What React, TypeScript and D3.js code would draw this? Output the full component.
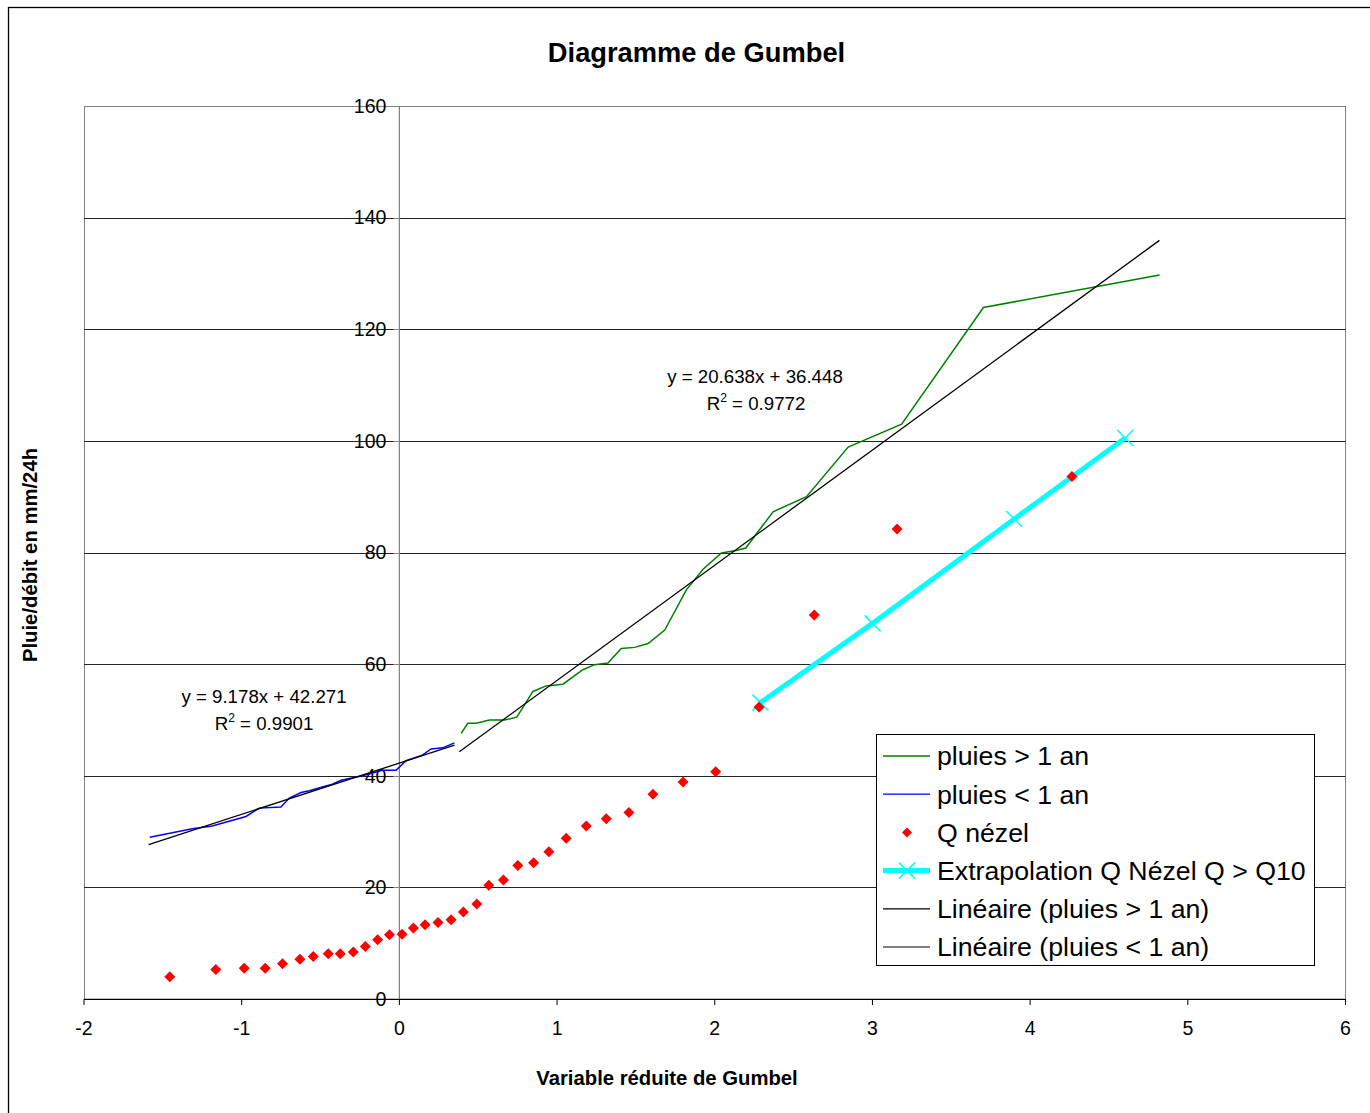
import React from "react";
import * as d3 from "d3";

const bluePluiesX = [-1.583, -1.314, -1.187, -0.973, -0.889, -0.751, -0.698, -0.624, -0.571, -0.489, -0.425, -0.37, -0.234, -0.107, -0.021, 0.042, 0.146, 0.201, 0.274, 0.349];
const bluePluiesY = [29.0, 30.5, 31.0, 32.7, 34.2, 34.4, 36.0, 37.0, 37.3, 38.0, 38.5, 39.2, 40.0, 41.0, 41.0, 42.7, 43.7, 44.8, 45.0, 45.9];

const greenPluiesX = [0.392, 0.434, 0.487, 0.571, 0.667, 0.745, 0.847, 0.931, 1.037, 1.164, 1.238, 1.323, 1.407, 1.492, 1.577, 1.683, 1.82, 1.926, 2.042, 2.127, 2.197, 2.37, 2.582, 2.846, 3.185, 3.704, 4.821];
const greenPluiesY = [47.6, 49.4, 49.4, 50.0, 50.0, 50.5, 55.1, 56.1, 56.4, 59.0, 59.9, 60.2, 62.8, 63.0, 63.7, 66.1, 73.3, 77.0, 79.9, 80.3, 80.8, 87.3, 90.0, 98.9, 103.0, 123.9, 129.7];

const qNezelX = [-1.456, -1.164, -0.984, -0.851, -0.741, -0.631, -0.546, -0.451, -0.375, -0.292, -0.216, -0.138, -0.063, 0.017, 0.089, 0.163, 0.245, 0.328, 0.406, 0.491, 0.567, 0.66, 0.751, 0.851, 0.948, 1.058, 1.185, 1.312, 1.456, 1.608, 1.799, 2.006, 2.281, 2.631, 3.156, 4.265];
const qNezelY = [4.0, 5.3, 5.5, 5.5, 6.3, 7.1, 7.6, 8.1, 8.1, 8.4, 9.4, 10.6, 11.5, 11.6, 12.7, 13.3, 13.7, 14.2, 15.6, 17.0, 20.4, 21.3, 23.9, 24.4, 26.4, 28.8, 31.0, 32.3, 33.4, 36.7, 38.9, 40.7, 52.3, 68.8, 84.2, 93.6];

const extrapX = [2.29, 3.001, 3.899, 4.603];
const extrapY = [53.1, 67.3, 86.0, 100.5];

// trend lines: [slope, intercept, xStart, xEnd]
const trendSup = [20.638, 36.448, 0.38, 4.82];
const trendInf = [9.178, 42.271, -1.59, 0.35];

const xTicks = [-2, -1, 0, 1, 2, 3, 4, 5, 6];
const yTicks = [0, 20, 40, 60, 80, 100, 120, 140, 160];

const legendLabels = [
  "pluies > 1 an",
  "pluies < 1 an",
  "Q nézel",
  "Extrapolation Q Nézel Q > Q10",
  "Linéaire (pluies > 1 an)",
  "Linéaire (pluies < 1 an)",
];

const FONT = "'Liberation Sans', Arial, sans-serif";

export default function App() {
  const x = d3.scaleLinear().domain([-2, 6]).range([84, 1345.5]);
  const y = d3.scaleLinear().domain([0, 160]).range([999, 106]);
  const line = d3
    .line<[number, number]>()
    .x((d) => x(d[0]))
    .y((d) => y(d[1]));

  const zip = (a: number[], b: number[]) => a.map((v, i) => [v, b[i]] as [number, number]);
  const trendPts = (t: number[]) => [
    [t[2], t[0] * t[2] + t[1]],
    [t[3], t[0] * t[3] + t[1]],
  ] as [number, number][];

  const diamond = (cx: number, cy: number, r: number) =>
    `M${cx},${cy - r}L${cx + r},${cy}L${cx},${cy + r}L${cx - r},${cy}Z`;
  const cross = (cx: number, cy: number, r: number) =>
    `M${cx - r},${cy - r}L${cx + r},${cy + r}M${cx - r},${cy + r}L${cx + r},${cy - r}`;

  const legX = 876;
  const legY = 734;
  const rowH = 38.2;

  return (
    <svg
      width={1370}
      height={1113}
      style={{ position: "absolute", left: 0, top: 0, background: "#fff" }}
      fontFamily={FONT}
    >
      <rect x={0} y={0} width={1370} height={1113} fill="#fff" />
      <rect x={8.5} y={7.5} width={1400} height={1200} fill="none" stroke="#000" strokeWidth={1.3} />
      <text x={696.5} y={62} textAnchor="middle" fontSize={27.3} fontWeight="bold">
        Diagramme de Gumbel
      </text>

      {/* plot area border */}
      <rect x={84.5} y={106.5} width={1261} height={892.5} fill="none" stroke="#808080" strokeWidth={1} />

      {/* gridlines */}
      {yTicks.filter((t) => t > 0 && t < 160).map((t) => (
        <line key={t} x1={84} x2={1345.5} y1={Math.round(y(t)) + 0.5} y2={Math.round(y(t)) + 0.5} stroke="#222" strokeWidth={1} />
      ))}

      {/* y axis at x=0 */}
      <line x1={x(0)} x2={x(0)} y1={106} y2={999} stroke="#808080" strokeWidth={1.2} />
      {yTicks.map((t) => (
        <g key={t}>
          <line x1={x(0) - 6} x2={x(0)} y1={Math.round(y(t)) + 0.5} y2={Math.round(y(t)) + 0.5} stroke="#808080" />
          <text x={x(0) - 13} y={y(t)} dy="0.35em" textAnchor="end" fontSize={19.5}>
            {t}
          </text>
        </g>
      ))}

      {/* x axis */}
      <line x1={84} x2={1345.5} y1={999.5} y2={999.5} stroke="#000" strokeWidth={1} />
      {xTicks.map((t) => (
        <g key={t}>
          <line x1={x(t)} x2={x(t)} y1={999} y2={1005} stroke="#000" />
          <text x={x(t)} y={1035} textAnchor="middle" fontSize={19.5}>
            {t}
          </text>
        </g>
      ))}

      {/* axis titles */}
      <text x={667} y={1085} textAnchor="middle" fontSize={20.3} fontWeight="bold">
        Variable réduite de Gumbel
      </text>
      <text
        transform={`translate(37,555) rotate(-90)`}
        textAnchor="middle"
        fontSize={20.3}
        fontWeight="bold"
      >
        Pluie/débit en  mm/24h
      </text>

      {/* series */}
      <path d={line(zip(greenPluiesX, greenPluiesY)) || ""} fill="none" stroke="#008000" strokeWidth={1.5} />
      <path d={line(zip(bluePluiesX, bluePluiesY)) || ""} fill="none" stroke="#0000FF" strokeWidth={1.5} />
      <path d={line(zip(extrapX, extrapY)) || ""} fill="none" stroke="#00FFFF" strokeWidth={5} />
      {extrapX.map((v, i) => (
        <path key={i} d={cross(x(v), y(extrapY[i]), 8)} fill="none" stroke="#00FFFF" strokeWidth={1.5} />
      ))}
      {qNezelX.map((v, i) => (
        <path key={i} d={diamond(x(v), y(qNezelY[i]), 5.5)} fill="#FF0000" />
      ))}
      <path d={line(trendPts(trendSup)) || ""} fill="none" stroke="#000" strokeWidth={1.3} />
      <path d={line(trendPts(trendInf)) || ""} fill="none" stroke="#000" strokeWidth={1.3} />

      {/* equations */}
      <text x={755} y={383} textAnchor="middle" fontSize={18.7}>
        y = 20.638x + 36.448
      </text>
      <text x={756} y={410} textAnchor="middle" fontSize={18.7}>
        R<tspan dy={-8} fontSize={12}>2</tspan>
        <tspan dy={8}> = 0.9772</tspan>
      </text>
      <text x={264} y={703} textAnchor="middle" fontSize={18.7}>
        y = 9.178x + 42.271
      </text>
      <text x={264} y={730} textAnchor="middle" fontSize={18.7}>
        R<tspan dy={-8} fontSize={12}>2</tspan>
        <tspan dy={8}> = 0.9901</tspan>
      </text>

      {/* legend */}
      <rect x={legX + 0.5} y={legY + 0.5} width={438} height={231} fill="#fff" stroke="#000" strokeWidth={1} />
      {legendLabels.map((lab, i) => {
        const cy = legY + 22 + i * rowH;
        let sample: React.ReactNode = null;
        if (i === 0) sample = <line x1={883} x2={930} y1={cy} y2={cy} stroke="#008000" strokeWidth={1.3} />;
        else if (i === 1) sample = <line x1={883} x2={930} y1={cy} y2={cy} stroke="#0000FF" strokeWidth={1.3} />;
        else if (i === 2) sample = <path d={diamond(907, cy, 5)} fill="#FF0000" />;
        else if (i === 3)
          sample = (
            <g>
              <line x1={883} x2={930} y1={cy} y2={cy} stroke="#00FFFF" strokeWidth={5} />
              <path d={cross(907, cy, 8)} fill="none" stroke="#00FFFF" strokeWidth={1.5} />
            </g>
          );
        else sample = <line x1={883} x2={930} y1={cy} y2={cy} stroke="#000" strokeWidth={1.2} />;
        return (
          <g key={lab}>
            {sample}
            <text x={937} y={cy} dy="0.35em" fontSize={26.7}>
              {lab}
            </text>
          </g>
        );
      })}
    </svg>
  );
}
